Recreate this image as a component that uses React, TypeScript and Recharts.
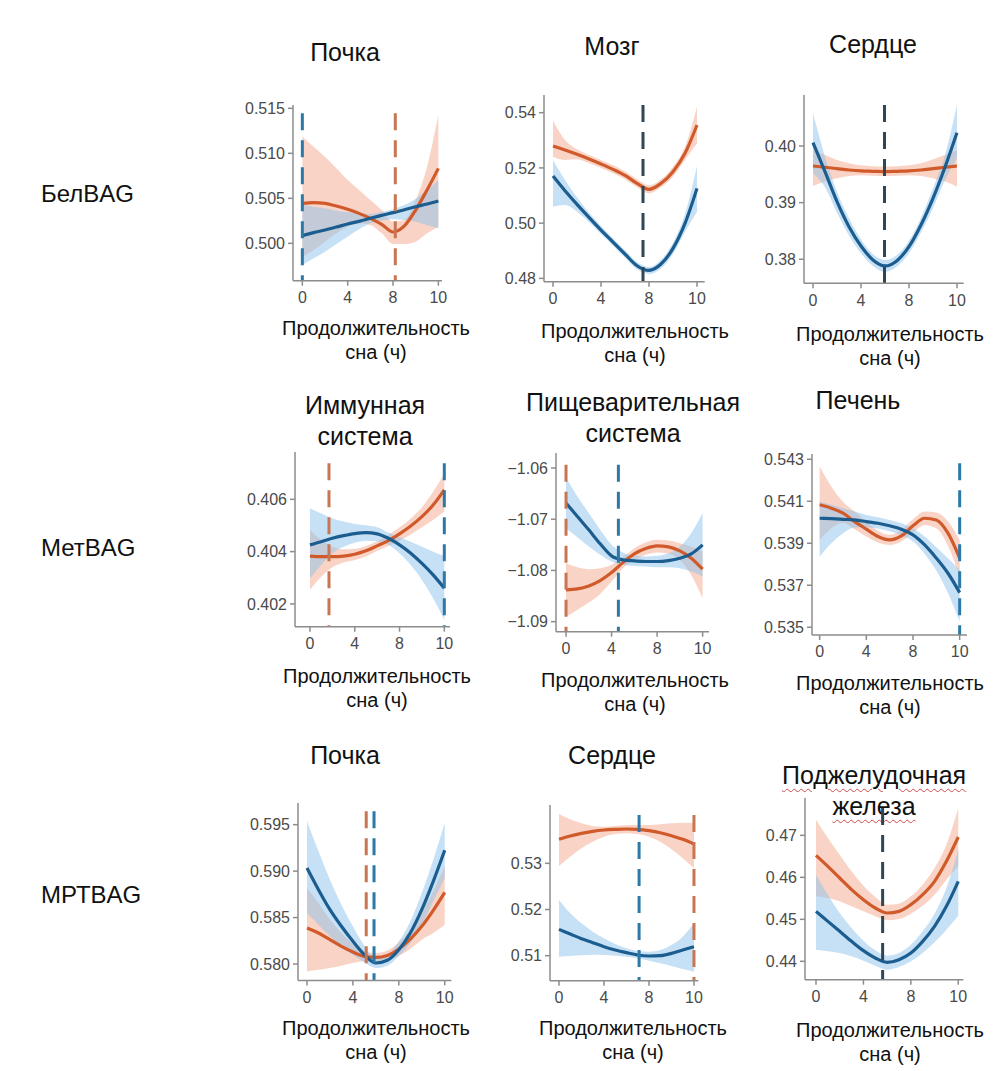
import React from "react";
import {
  ComposedChart,
  Area,
  Line,
  XAxis,
  YAxis,
  ReferenceLine,
} from "recharts";

// positions along the x axis (ticks 0,4,8,10 sit at equal spacing)
const P = [0, 0.25, 0.5, 0.75, 1, 1.25, 1.5, 1.75, 2, 2.25, 2.5, 2.75, 3];
const X_TICKS = [0, 1, 2, 3];
const X_LABELS = ["0", "4", "8", "10"];

// БелBAG — Почка
const belKidneyBlue = [0.50085, 0.50119, 0.50148, 0.50181, 0.50215, 0.50244, 0.50278, 0.50311, 0.50341, 0.50374, 0.50407, 0.50437, 0.5047];
const belKidneyBlueLo = [0.49759, 0.49833, 0.49907, 0.49993, 0.50074, 0.50156, 0.50222, 0.50252, 0.50267, 0.50259, 0.50241, 0.50204, 0.50167];
const belKidneyBlueHi = [0.50426, 0.50407, 0.50389, 0.50363, 0.50345, 0.50335, 0.50325, 0.50348, 0.5038, 0.50425, 0.50495, 0.50595, 0.50704];
const belKidneyOrange = [0.50444, 0.50452, 0.50444, 0.50415, 0.50378, 0.50333, 0.50278, 0.50211, 0.50126, 0.50193, 0.5037, 0.50593, 0.50833];
const belKidneyOrangeLo = [0.49852, 0.49926, 0.50019, 0.50111, 0.50185, 0.50222, 0.50204, 0.50111, 0.49993, 0.49993, 0.50019, 0.50111, 0.50185];
const belKidneyOrangeHi = [0.51185, 0.51074, 0.50963, 0.50833, 0.50704, 0.50593, 0.50481, 0.5037, 0.50241, 0.5026, 0.50481, 0.50852, 0.51426];

// БелBAG — Мозг
const belBrainBlue = [0.51706, 0.51175, 0.5068, 0.50209, 0.4975, 0.49316, 0.48881, 0.48459, 0.48289, 0.48519, 0.49086, 0.49992, 0.51259];
const belBrainBlueLo = [0.50595, 0.50656, 0.50414, 0.5004, 0.49605, 0.49183, 0.48748, 0.48326, 0.48157, 0.48362, 0.48881, 0.4969, 0.50414];
const belBrainBlueHi = [0.52286, 0.51561, 0.50933, 0.50378, 0.49895, 0.49448, 0.49014, 0.48591, 0.4841, 0.48664, 0.49292, 0.5033, 0.52068];
const belBrainOrange = [0.52793, 0.52648, 0.52491, 0.52322, 0.52141, 0.51948, 0.5173, 0.5144, 0.51223, 0.5144, 0.51863, 0.52527, 0.53553];
const belBrainOrangeLo = [0.52406, 0.52286, 0.5231, 0.52165, 0.51996, 0.51803, 0.51585, 0.51296, 0.51078, 0.51296, 0.51682, 0.52286, 0.52889];
const belBrainOrangeHi = [0.5371, 0.5301, 0.52672, 0.52467, 0.52286, 0.52092, 0.51875, 0.51585, 0.51368, 0.51585, 0.52044, 0.52769, 0.54217];

// БелBAG — Сердце
const belHeartBlue = [0.40059, 0.39547, 0.39018, 0.38576, 0.38235, 0.37988, 0.37882, 0.37976, 0.38224, 0.38606, 0.39076, 0.39624, 0.40235];
const belHeartBlueLo = [0.39518, 0.39271, 0.38824, 0.38418, 0.38106, 0.37882, 0.37776, 0.37871, 0.38106, 0.38471, 0.389, 0.394, 0.39782];
const belHeartBlueHi = [0.40576, 0.39812, 0.39194, 0.38724, 0.38353, 0.38088, 0.37988, 0.38076, 0.38329, 0.38735, 0.39253, 0.39841, 0.40724];
const belHeartOrange = [0.39647, 0.39624, 0.396, 0.39576, 0.39559, 0.39553, 0.39547, 0.39553, 0.39559, 0.39576, 0.396, 0.39624, 0.39647];
const belHeartOrangeLo = [0.39294, 0.39371, 0.39429, 0.39471, 0.39482, 0.39476, 0.39471, 0.39476, 0.39482, 0.39471, 0.39429, 0.39371, 0.39282];
const belHeartOrangeHi = [0.39929, 0.39841, 0.39753, 0.39694, 0.39659, 0.39641, 0.39635, 0.39641, 0.39659, 0.39694, 0.39765, 0.39841, 0.39929];

// МетBAG — Иммунная система
const metImmuneBlue = [0.40426, 0.40438, 0.40451, 0.40461, 0.40469, 0.40473, 0.40468, 0.40451, 0.40426, 0.40394, 0.40355, 0.40311, 0.4026];
const metImmuneBlueLo = [0.40298, 0.40349, 0.40394, 0.40419, 0.40434, 0.40442, 0.4044, 0.40426, 0.40394, 0.40349, 0.40292, 0.40222, 0.40139];
const metImmuneBlueHi = [0.40566, 0.40546, 0.40527, 0.40515, 0.40506, 0.40501, 0.40493, 0.40473, 0.40455, 0.40438, 0.40419, 0.404, 0.40383];
const metImmuneOrange = [0.40383, 0.40381, 0.40381, 0.40383, 0.4039, 0.40403, 0.40422, 0.40442, 0.40468, 0.40498, 0.40534, 0.40578, 0.40636];
const metImmuneOrangeLo = [0.40254, 0.40304, 0.4034, 0.40358, 0.40368, 0.40381, 0.40403, 0.40422, 0.40442, 0.40466, 0.40493, 0.40521, 0.40553];
const metImmuneOrangeHi = [0.40483, 0.40445, 0.40419, 0.40409, 0.40411, 0.40422, 0.4044, 0.40464, 0.40493, 0.40527, 0.4057, 0.40629, 0.40699];

// МетBAG — Пищеварительная система
const metDigestBlue = [-1.06685, -1.06946, -1.07207, -1.0748, -1.07715, -1.07794, -1.07813, -1.07826, -1.07826, -1.07807, -1.07761, -1.07676, -1.075];
const metDigestBlueLo = [-1.07174, -1.0735, -1.07533, -1.07696, -1.07826, -1.07891, -1.07911, -1.07924, -1.07937, -1.07937, -1.07957, -1.08022, -1.0812];
const metDigestBlueHi = [-1.06196, -1.06554, -1.0688, -1.07207, -1.075, -1.0765, -1.07715, -1.07728, -1.07715, -1.07663, -1.07533, -1.07272, -1.0688];
const metDigestOrange = [-1.0838, -1.08361, -1.08302, -1.08198, -1.08041, -1.07846, -1.07676, -1.07572, -1.0752, -1.07539, -1.07617, -1.07761, -1.07976];
const metDigestOrangeLo = [-1.08902, -1.08772, -1.08628, -1.08459, -1.08217, -1.07957, -1.07794, -1.07696, -1.0765, -1.07676, -1.07794, -1.08087, -1.08544];
const metDigestOrangeHi = [-1.07859, -1.07937, -1.07976, -1.07957, -1.07891, -1.07741, -1.07565, -1.07454, -1.07402, -1.07415, -1.07467, -1.07533, -1.0763];

// МетBAG — Печень
const metLiverBlue = [0.54019, 0.54017, 0.54014, 0.54011, 0.54003, 0.53995, 0.53983, 0.53967, 0.5394, 0.53892, 0.53829, 0.53757, 0.53665];
const metLiverBlueLo = [0.53837, 0.539, 0.53948, 0.53975, 0.53976, 0.5397, 0.53957, 0.53938, 0.53908, 0.53849, 0.5377, 0.53662, 0.53527];
const metLiverBlueHi = [0.54098, 0.54083, 0.54067, 0.54051, 0.54035, 0.54024, 0.54011, 0.53995, 0.53971, 0.53932, 0.53881, 0.53829, 0.53773];
const metLiverOrange = [0.54083, 0.54067, 0.54043, 0.54003, 0.53967, 0.53932, 0.53916, 0.53935, 0.53983, 0.54019, 0.54011, 0.53948, 0.53829];
const metLiverOrangeLo = [0.53916, 0.53971, 0.53998, 0.53967, 0.53932, 0.53903, 0.53892, 0.53908, 0.53951, 0.53987, 0.53971, 0.53887, 0.53741];
const metLiverOrangeHi = [0.54265, 0.5417, 0.54098, 0.54051, 0.54003, 0.5396, 0.5394, 0.53963, 0.54014, 0.54051, 0.54046, 0.54003, 0.53916];

// МРТBAG — Почка
const mrtKidneyBlue = [0.59033, 0.588, 0.58585, 0.58406, 0.58244, 0.581, 0.58011, 0.5804, 0.58154, 0.58334, 0.58585, 0.5889, 0.59224];
const mrtKidneyBlueLo = [0.58549, 0.58423, 0.58298, 0.5819, 0.581, 0.58018, 0.57957, 0.57982, 0.58083, 0.58226, 0.58423, 0.58675, 0.58926];
const mrtKidneyBlueHi = [0.59536, 0.59213, 0.58908, 0.58639, 0.58406, 0.58197, 0.58065, 0.581, 0.58244, 0.58459, 0.58764, 0.59123, 0.59518];
const mrtKidneyOrange = [0.58388, 0.58334, 0.58262, 0.5819, 0.58129, 0.58083, 0.58072, 0.58093, 0.58162, 0.58269, 0.58406, 0.58578, 0.58772];
const mrtKidneyOrangeLo = [0.57921, 0.57939, 0.57957, 0.57982, 0.58011, 0.58029, 0.58025, 0.5804, 0.5809, 0.58162, 0.58262, 0.58334, 0.58423];
const mrtKidneyOrangeHi = [0.58818, 0.58657, 0.58477, 0.58334, 0.58215, 0.58136, 0.58118, 0.58147, 0.58233, 0.5837, 0.58549, 0.58782, 0.59051];

// МРТBAG — Сердце
const mrtHeartBlue = [0.5157, 0.51469, 0.51368, 0.51282, 0.51195, 0.51123, 0.51065, 0.51014, 0.50993, 0.51, 0.5105, 0.51123, 0.51195];
const mrtHeartBlueLo = [0.50978, 0.50993, 0.51007, 0.51022, 0.51014, 0.51, 0.50978, 0.50942, 0.50892, 0.50834, 0.50776, 0.50711, 0.50653];
const mrtHeartBlueHi = [0.52206, 0.51917, 0.517, 0.5152, 0.51375, 0.51253, 0.51159, 0.51101, 0.51087, 0.51123, 0.51231, 0.51412, 0.517];
const mrtHeartOrange = [0.5352, 0.53592, 0.5365, 0.53693, 0.53722, 0.53736, 0.53744, 0.53736, 0.53708, 0.53664, 0.53599, 0.5352, 0.53419];
const mrtHeartOrangeLo = [0.52942, 0.53144, 0.53325, 0.53469, 0.53578, 0.53635, 0.5365, 0.53635, 0.53578, 0.53469, 0.53303, 0.53108, 0.52892];
const mrtHeartOrangeHi = [0.54069, 0.53953, 0.53866, 0.53809, 0.53794, 0.53808, 0.53823, 0.5383, 0.5383, 0.53845, 0.53866, 0.53881, 0.53881];

// МРТBAG — Поджелудочная железа
const mrtPancreasBlue = [0.4519, 0.44952, 0.44714, 0.44476, 0.44254, 0.44079, 0.43976, 0.4404, 0.44198, 0.44476, 0.44833, 0.4531, 0.45905];
const mrtPancreasBlueLo = [0.44278, 0.44238, 0.44198, 0.44119, 0.44016, 0.43897, 0.43802, 0.43865, 0.44, 0.44198, 0.44452, 0.44754, 0.45087];
const mrtPancreasBlueHi = [0.46063, 0.45587, 0.45151, 0.44794, 0.44492, 0.44262, 0.44135, 0.44198, 0.44397, 0.44714, 0.45135, 0.45746, 0.46659];
const mrtPancreasOrange = [0.46524, 0.46262, 0.45984, 0.45706, 0.45468, 0.4527, 0.45151, 0.4519, 0.45349, 0.45587, 0.45905, 0.46381, 0.4696];
const mrtPancreasOrangeLo = [0.45548, 0.45508, 0.45429, 0.4531, 0.4519, 0.45071, 0.44976, 0.45008, 0.45135, 0.45325, 0.45587, 0.45944, 0.46262];
const mrtPancreasOrangeHi = [0.47373, 0.46937, 0.4654, 0.46143, 0.45802, 0.45532, 0.45349, 0.45373, 0.45548, 0.45825, 0.46222, 0.46778, 0.47651];

const ORANGE = "#d15a2b";
const BLUE = "#1c5d90";
const ORANGE_BAND = "#f4a98e";
const BLUE_BAND = "#8ec2ec";
const DASH_BLUE = "#2c78a6";
const DASH_ORANGE = "#c87552";
const DASH_DARK = "#2f4657";
const FONT = "'Liberation Sans', Arial, Helvetica, sans-serif";

const rows = (
  blue: number[],
  blueLo: number[],
  blueHi: number[],
  orange: number[],
  orangeLo: number[],
  orangeHi: number[]
) =>
  P.map((p, i) => ({
    p,
    blue: blue[i],
    blueBand: [blueLo[i], blueHi[i]],
    orange: orange[i],
    orangeBand: [orangeLo[i], orangeHi[i]],
  }));

const fmtMinus = (v: number, d: number) => v.toFixed(d).replace("-", "\u2212");

const panels = [
  {
    title: ["Почка"], tx: 345, ty: 52, lx: 376, ly: 328,
    box: { l: 292.7, r: 441.7, t: 105, b: 280.7 },
    x: [-0.206, 3.08], y: [0.49585, 0.51537], yTicks: [0.5, 0.505, 0.51, 0.515], dec: 3,
    dashes: [{ x: 0, c: DASH_BLUE, top: 0.51444 }, { x: 2.05, c: DASH_ORANGE, top: 0.51444 }],
    data: rows(belKidneyBlue, belKidneyBlueLo, belKidneyBlueHi, belKidneyOrange, belKidneyOrangeLo, belKidneyOrangeHi),
  },
  {
    title: ["Мозг"], tx: 612, ty: 46, lx: 635, ly: 331,
    box: { l: 544.3, r: 705, t: 95, b: 281.7 },
    x: [-0.1875, 3.16], y: [0.4788, 0.5464], yTicks: [0.48, 0.5, 0.52, 0.54], dec: 2,
    dashes: [{ x: 1.875, c: DASH_DARK, top: 0.54278 }],
    data: rows(belBrainBlue, belBrainBlueLo, belBrainBlueHi, belBrainOrange, belBrainOrangeLo, belBrainOrangeHi),
  },
  {
    title: ["Сердце"], tx: 873, ty: 44, lx: 890, ly: 334,
    box: { l: 804.3, r: 964, t: 95, b: 283.3 },
    x: [-0.1875, 3.14], y: [0.37576, 0.409], yTicks: [0.38, 0.39, 0.4], dec: 2,
    dashes: [{ x: 1.49, c: DASH_DARK, top: 0.40724 }],
    data: rows(belHeartBlue, belHeartBlueLo, belHeartBlueHi, belHeartOrange, belHeartOrangeLo, belHeartOrangeHi),
  },
  {
    title: ["Иммунная", "система"], tx: 365, ty: 405, lx: 377, ly: 676,
    box: { l: 295, r: 450, t: 452, b: 626.7 },
    x: [-0.335, 3.127], y: [0.40113, 0.40781], yTicks: [0.402, 0.404, 0.406], dec: 3,
    dashes: [{ x: 0.424, c: DASH_ORANGE, top: 0.40738 }, { x: 3, c: DASH_BLUE, top: 0.40738 }],
    data: rows(metImmuneBlue, metImmuneBlueLo, metImmuneBlueHi, metImmuneOrange, metImmuneOrangeLo, metImmuneOrangeHi),
  },
  {
    title: ["Пищеварительная", "система"], tx: 633, ty: 402, lx: 635, ly: 680,
    box: { l: 556, r: 709, t: 453, b: 631.7 },
    x: [-0.22, 3.14], y: [-1.09196, -1.05707], yTicks: [-1.09, -1.08, -1.07, -1.06], dec: 2,
    dashes: [{ x: 0, c: DASH_ORANGE, top: -1.05935 }, { x: 1.15, c: DASH_BLUE, top: -1.05935 }],
    data: rows(metDigestBlue, metDigestBlueLo, metDigestBlueHi, metDigestOrange, metDigestOrangeLo, metDigestOrangeHi),
  },
  {
    title: ["Печень"], tx: 858, ty: 400, lx: 890, ly: 683,
    box: { l: 811.7, r: 966.7, t: 454, b: 635 },
    x: [-0.164, 3.157], y: [0.53463, 0.54325], yTicks: [0.535, 0.537, 0.539, 0.541, 0.543], dec: 3,
    dashes: [{ x: 3, c: DASH_BLUE, top: 0.54281 }],
    data: rows(metLiverBlue, metLiverBlueLo, metLiverBlueHi, metLiverOrange, metLiverOrangeLo, metLiverOrangeHi),
  },
  {
    title: ["Почка"], tx: 345, ty: 755, lx: 376, ly: 1028,
    box: { l: 298.3, r: 451.7, t: 803.3, b: 980.7 },
    x: [-0.196, 3.145], y: [0.57824, 0.59733], yTicks: [0.58, 0.585, 0.59, 0.595], dec: 3,
    dashes: [{ x: 1.29, c: DASH_ORANGE, top: 0.59644 }, { x: 1.46, c: DASH_BLUE, top: 0.59644 }],
    data: rows(mrtKidneyBlue, mrtKidneyBlueLo, mrtKidneyBlueHi, mrtKidneyOrange, mrtKidneyOrangeLo, mrtKidneyOrangeHi),
  },
  {
    title: ["Сердце"], tx: 612, ty: 755, lx: 633, ly: 1028,
    box: { l: 550, r: 698.3, t: 805, b: 980.7 },
    x: [-0.2, 3.096], y: [0.50458, 0.54264], yTicks: [0.51, 0.52, 0.53], dec: 2,
    dashes: [{ x: 1.78, c: DASH_BLUE, top: 0.54047 }, { x: 3, c: DASH_ORANGE, top: 0.54047 }],
    data: rows(mrtHeartBlue, mrtHeartBlueLo, mrtHeartBlueHi, mrtHeartOrange, mrtHeartOrangeLo, mrtHeartOrangeHi),
  },
  {
    title: ["Поджелудочная", "железа"], tx: 874, ty: 775, lx: 890, ly: 1030, wavy: true,
    box: { l: 805, r: 963.3, t: 798.3, b: 980 },
    x: [-0.232, 3.106], y: [0.43563, 0.47889], yTicks: [0.44, 0.45, 0.46, 0.47], dec: 2,
    dashes: [{ x: 1.405, c: DASH_DARK, top: 0.47651 }],
    data: rows(mrtPancreasBlue, mrtPancreasBlueLo, mrtPancreasBlueHi, mrtPancreasOrange, mrtPancreasOrangeLo, mrtPancreasOrangeHi),
  },
];

const rowLabels = [
  { text: "БелBAG", y: 194 },
  { text: "МетBAG", y: 548 },
  { text: "МРТBAG", y: 895 },
];

const YW = 60;
const XH = 34;
const PAD = 12;

const Label = ({ x, y, size, children, style }: any) => (
  <div
    style={{
      position: "absolute",
      left: x,
      top: y,
      transform: "translate(-50%, -50%)",
      fontFamily: FONT,
      fontSize: size,
      lineHeight: 1,
      whiteSpace: "nowrap",
      color: "#111",
      ...style,
    }}
  >
    {children}
  </div>
);

const Panel = ({ cfg }: any) => {
  const { box } = cfg;
  const w = box.r - box.l;
  const h = box.b - box.t;
  return (
    <div style={{ position: "absolute", left: box.l - YW, top: box.t - PAD }}>
      <ComposedChart
        width={YW + w + PAD}
        height={PAD + h + XH}
        data={cfg.data}
        margin={{ top: PAD, right: PAD, bottom: 0, left: 0 }}
      >
        <XAxis
          dataKey="p"
          type="number"
          domain={cfg.x}
          allowDataOverflow
          ticks={X_TICKS}
          tickFormatter={(v: number) => X_LABELS[v]}
          height={XH}
          stroke="#8c8c8c"
          strokeWidth={1.5}
          tickSize={5}
          tickMargin={6}
          tick={{ fill: "#4a4a4a", fontSize: 16, fontFamily: FONT }}
        />
        <YAxis
          type="number"
          domain={cfg.y}
          allowDataOverflow
          ticks={cfg.yTicks}
          tickFormatter={(v: number) => fmtMinus(v, cfg.dec)}
          width={YW}
          stroke="#8c8c8c"
          strokeWidth={1.5}
          tickSize={5}
          tickMargin={3}
          tick={{ fill: "#4a4a4a", fontSize: 16, fontFamily: FONT }}
        />
        <Area
          type="monotone"
          dataKey="orangeBand"
          stroke="none"
          fill={ORANGE_BAND}
          fillOpacity={0.5}
          isAnimationActive={false}
        />
        <Area
          type="monotone"
          dataKey="blueBand"
          stroke="none"
          fill={BLUE_BAND}
          fillOpacity={0.5}
          isAnimationActive={false}
        />
        <Line
          type="monotone"
          dataKey="orange"
          stroke={ORANGE}
          strokeWidth={3.2}
          dot={false}
          isAnimationActive={false}
        />
        <Line
          type="monotone"
          dataKey="blue"
          stroke={BLUE}
          strokeWidth={3.2}
          dot={false}
          isAnimationActive={false}
        />
        {cfg.dashes.map((d: any, i: number) => (
          <ReferenceLine
            key={i}
            segment={[
              { x: d.x, y: d.top },
              { x: d.x, y: cfg.y[0] },
            ]}
            stroke={d.c}
            strokeWidth={3}
            strokeDasharray="17 10"
          />
        ))}
      </ComposedChart>
    </div>
  );
};

export default function App() {
  return (
    <div
      style={{
        position: "absolute",
        left: 0,
        top: 0,
        width: 1008,
        height: 1071,
        background: "#fff",
        overflow: "hidden",
      }}
    >
      {rowLabels.map((r) => (
        <div
          key={r.text}
          style={{
            position: "absolute",
            left: 41,
            top: r.y,
            transform: "translateY(-50%)",
            fontFamily: FONT,
            fontSize: 24,
            lineHeight: 1,
            color: "#111",
          }}
        >
          {r.text}
        </div>
      ))}
      {panels.map((cfg, i) => (
        <React.Fragment key={i}>
          {cfg.title.map((t, j) => (
            <Label
              key={j}
              x={cfg.tx}
              y={cfg.ty + j * 31}
              size={25}
              style={
                cfg.wavy
                  ? {
                      textDecoration: "underline wavy #d24a4a",
                      textDecorationThickness: "1px",
                      textUnderlineOffset: "4px",
                    }
                  : undefined
              }
            >
              {t}
            </Label>
          ))}
          <Label x={cfg.lx} y={cfg.ly} size={20}>
            Продолжительность
          </Label>
          <Label x={cfg.lx} y={cfg.ly + 24} size={20}>
            сна (ч)
          </Label>
          <Panel cfg={cfg} />
        </React.Fragment>
      ))}
    </div>
  );
}
